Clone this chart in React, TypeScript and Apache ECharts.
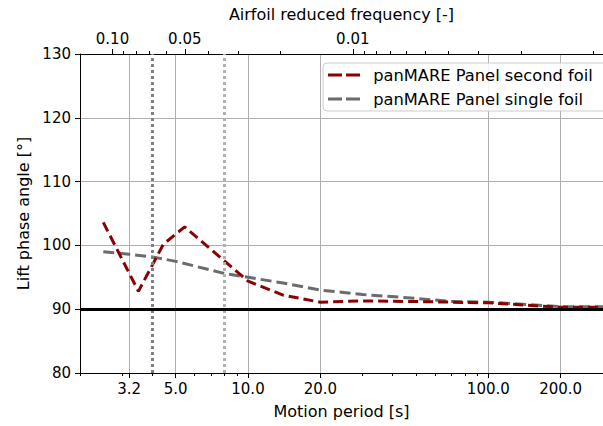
import React, { useEffect, useRef } from "react";
import * as echarts from "echarts";

// Motion period [s]
const periodSecond = [2.5, 3.5, 4.45, 5.45, 10, 14, 20, 30, 50, 100, 200, 300];
const phaseSecond = [103.6, 92.8, 100.2, 102.9, 94.4, 92.2, 91.1, 91.3, 91.2, 91.0, 90.3, 90.3];

const periodSingle = [2.5, 3.2, 4, 5, 8, 10, 14, 20, 30, 50, 70, 100, 200, 300];
const phaseSingle = [99.0, 98.6, 98.2, 97.5, 95.6, 95.0, 94.1, 93.0, 92.3, 91.7, 91.2, 91.1, 90.4, 90.4];

const bottomMajorTicks = [3.2, 5, 10, 20, 100, 200];
const bottomMinorTicks = [2, 3, 4, 6, 7, 8, 9, 30, 40, 50, 60, 70, 80, 90, 300];
const topMajorTicks = [0.1, 0.05, 0.01];
const topMinorTicks = [0.09, 0.08, 0.07, 0.06, 0.04, 0.03, 0.02, 0.009, 0.008, 0.007, 0.006, 0.005, 0.004, 0.003, 0.002, 0.001];
const yTicks = [80, 90, 100, 110, 120, 130];

const referencePeriods = [4, 8];
const referenceLine = 90;

const periodMin = 2;
const periodMax = 300;
const freqFactor = 0.273; // reduced frequency = factor / period

const seriesNames = ["panMARE Panel second foil", "panMARE Panel single foil"];

const FONT = "DejaVu Sans";
const DASH_ICON = "path://M0 0H14V3H0Z M18 0H32V3H18Z";

export default function App() {
  const ref = useRef<HTMLDivElement>(null);
  useEffect(() => {
    document.body.style.margin = "0";
    const chart = echarts.init(ref.current!, undefined, { renderer: "svg" });
    const axisCommon = {
      type: "log" as const,
      logBase: 10,
    };
    const option: any = {
      animation: false,
      backgroundColor: "#ffffff",
      textStyle: { fontFamily: FONT },
      grid: { left: 80, top: 54, right: -9, bottom: 53, containLabel: false },
      legend: {
        orient: "vertical",
        left: 323,
        top: 63,
        data: seriesNames.map((n) => ({ name: n, icon: DASH_ICON })),
        itemWidth: 32,
        itemHeight: 3,
        itemGap: 8,
        padding: [4, 16, 4, 5],
        backgroundColor: "rgba(255,255,255,0.85)",
        borderColor: "#cccccc",
        borderWidth: 1,
        borderRadius: 4,
        formatter: (n: string) => "\u2002" + n,
        textStyle: { fontFamily: FONT, fontSize: 16.3, color: "#000" },
      },
      xAxis: [
        {
          ...axisCommon,
          position: "bottom",
          min: periodMin,
          max: periodMax,
          name: "Motion period [s]",
          nameLocation: "middle",
          nameGap: 30,
          nameTextStyle: { fontFamily: FONT, fontSize: 16, color: "#000" },
          axisLine: { show: true, lineStyle: { color: "#000", width: 1 } },
          axisTick: { show: true, customValues: bottomMajorTicks, length: 5, lineStyle: { color: "#000" } },
          axisLabel: {
            customValues: bottomMajorTicks,
            formatter: (v: number) => v.toFixed(1),
            fontFamily: FONT,
            fontSize: 15,
            color: "#000",
            margin: 8,
          },
          splitLine: { show: true, lineStyle: { color: "#b0b0b0", width: 1 } },
        },
        {
          ...axisCommon,
          position: "bottom",
          min: periodMin,
          max: periodMax,
          axisLine: { show: false },
          axisTick: { show: true, customValues: bottomMinorTicks, length: 3, lineStyle: { color: "#000" } },
          axisLabel: { show: false },
          splitLine: { show: false },
        },
        {
          ...axisCommon,
          position: "top",
          inverse: true,
          min: freqFactor / periodMax,
          max: freqFactor / periodMin,
          name: "Airfoil reduced frequency [-]",
          nameLocation: "middle",
          nameGap: 32,
          nameTextStyle: { fontFamily: FONT, fontSize: 16, color: "#000" },
          axisLine: { show: true, lineStyle: { color: "#000", width: 1 } },
          axisTick: { show: true, customValues: topMajorTicks, length: 5, lineStyle: { color: "#000" } },
          axisLabel: {
            customValues: topMajorTicks,
            formatter: (v: number) => v.toFixed(2),
            fontFamily: FONT,
            fontSize: 15,
            color: "#000",
            margin: 8,
          },
          splitLine: { show: false },
        },
        {
          ...axisCommon,
          position: "top",
          inverse: true,
          min: freqFactor / periodMax,
          max: freqFactor / periodMin,
          axisLine: { show: false },
          axisTick: { show: true, customValues: topMinorTicks, length: 3, lineStyle: { color: "#000" } },
          axisLabel: { show: false },
          splitLine: { show: false },
        },
      ],
      yAxis: {
        type: "value",
        min: 80,
        max: 130,
        interval: 10,
        name: "Lift phase angle [°]",
        nameLocation: "middle",
        nameGap: 49,
        nameTextStyle: { fontFamily: FONT, fontSize: 16, color: "#000" },
        axisLine: { show: true, lineStyle: { color: "#000", width: 1 } },
        axisTick: { show: true, length: 5, lineStyle: { color: "#000" } },
        axisLabel: {
          customValues: yTicks,
          fontFamily: FONT,
          fontSize: 15,
          color: "#000",
          margin: 9,
        },
        splitLine: { show: true, lineStyle: { color: "#b0b0b0", width: 1 } },
      },
      series: [
        {
          name: seriesNames[0],
          type: "line",
          xAxisIndex: 0,
          z: 4,
          symbol: "none",
          data: periodSecond.map((p, i) => [p, phaseSecond[i]]),
          lineStyle: { color: "#8b0000", width: 3, type: [10, 5] },
          itemStyle: { color: "#8b0000" },
        },
        {
          name: seriesNames[1],
          type: "line",
          xAxisIndex: 0,
          z: 3,
          symbol: "none",
          data: periodSingle.map((p, i) => [p, phaseSingle[i]]),
          lineStyle: { color: "#6b6b6b", width: 3, type: [11, 5] },
          itemStyle: { color: "#6b6b6b" },
          markLine: {
            silent: true,
            symbol: "none",
            label: { show: false },
            data: [
              { xAxis: referencePeriods[0], lineStyle: { color: "#808080", width: 3, type: [3, 3] } },
              { xAxis: referencePeriods[1], lineStyle: { color: "#b0b0b0", width: 3, type: [3, 3] } },
              { yAxis: referenceLine, lineStyle: { color: "#000000", width: 3, type: "solid" } },
            ],
          },
        },
      ],
    };
    chart.setOption(option);
    return () => chart.dispose();
  }, []);
  return (
    <div
      ref={ref}
      style={{ position: "fixed", left: 0, top: 0, width: 603, height: 426 }}
    />
  );
}
